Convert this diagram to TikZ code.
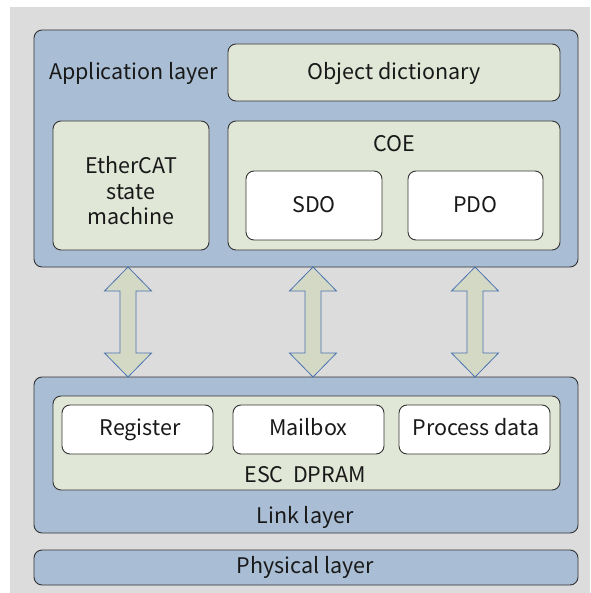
\documentclass[tikz,border=0pt]{standalone}
\usepackage{fontspec}
\setmainfont{Noto Sans CJK SC}
\begin{document}
\begin{tikzpicture}[x=1pt,y=-1pt,
  every node/.style={font=\fontsize{21.5}{25.5}\selectfont, text=black!90},
  bluebox/.style={draw=black!80, line width=0.9pt, fill=layerblue, rounded corners=8pt, inner sep=0pt},
  greenbox/.style={draw=black!80, line width=0.9pt, fill=boxgreen, rounded corners=8pt, inner sep=0pt},
  whitebox/.style={draw=black!80, line width=0.9pt, fill=white, rounded corners=8pt, inner sep=0pt},
  dblarrow/.style={draw=arrowblue, line width=0.8pt, fill=arrowfill},
  lbl/.style={inner sep=0pt, align=center, anchor=base}
]
\definecolor{layerblue}{HTML}{A9BED4}
\definecolor{boxgreen}{HTML}{E1E7D6}
\definecolor{arrowfill}{HTML}{D4D9C6}
\definecolor{arrowblue}{HTML}{4A72B0}
\definecolor{bggray}{HTML}{DCDCDC}
\useasboundingbox (0,0) rectangle (590,593);
\fill[white] (0,0) rectangle (590,593);
\fill[bggray] (10,7) rectangle (590,593);

% application layer
\node[bluebox, minimum width=544pt, minimum height=237pt] (app) at (306,148.5) {};
\node[lbl, anchor=base west] (applbl) at (49,80) {Application layer};
\node[greenbox, minimum width=332pt, minimum height=57pt] (od) at (394,72.5) {};
\node[lbl] (odlbl) at (394,80) {Object dictionary};
\node[greenbox, minimum width=156pt, minimum height=129pt] (esm) at (131,185.5) {};
\node[lbl] (esmlbl) at (131,225) {EtherCAT\\state\\machine};
\node[greenbox, minimum width=332pt, minimum height=129pt] (coe) at (394,185.5) {};
\node[lbl] (coelbl) at (394,152) {COE};
\node[whitebox, minimum width=136pt, minimum height=69pt] (sdo) at (314,205.5) {};
\node[lbl] (sdolbl) at (314,213) {SDO};
\node[whitebox, minimum width=135pt, minimum height=69pt] (pdo) at (475.5,205.5) {};
\node[lbl] (pdolbl) at (475.5,213) {PDO};

% link layer
\node[bluebox, minimum width=544pt, minimum height=156pt] (link) at (306,455) {};
\node[greenbox, minimum width=507pt, minimum height=94pt] (esc) at (306.5,443) {};
\node[whitebox, minimum width=151pt, minimum height=49pt] (reg) at (137.5,429.5) {};
\node[lbl] (reglbl) at (140,435) {Register};
\node[whitebox, minimum width=151pt, minimum height=49pt] (mbx) at (308.5,429.5) {};
\node[lbl] (mbxlbl) at (308.5,435) {Mailbox};
\node[whitebox, minimum width=151pt, minimum height=49pt] (pd) at (474.5,429.5) {};
\node[lbl] (pdlbl) at (476,435) {Process data};
\node[lbl] (esclbl) at (305,482) {ESC\ \ DPRAM};
\node[lbl] (linklbl) at (305,523) {Link layer};

% physical layer
\node[bluebox, minimum width=544pt, minimum height=35pt] (phy) at (306,567.5) {};
\node[lbl] (phylbl) at (305,573) {Physical layer};

% double arrows
\foreach \cx in {128,313,475}{
  \draw[dblarrow] (\cx,267) -- (\cx+23.5,291) -- (\cx+8,291) -- (\cx+8,353) -- (\cx+23.5,353)
    -- (\cx,377) -- (\cx-23.5,353) -- (\cx-8,353) -- (\cx-8,291) -- (\cx-23.5,291) -- cycle;
}
\end{tikzpicture}
\end{document}
